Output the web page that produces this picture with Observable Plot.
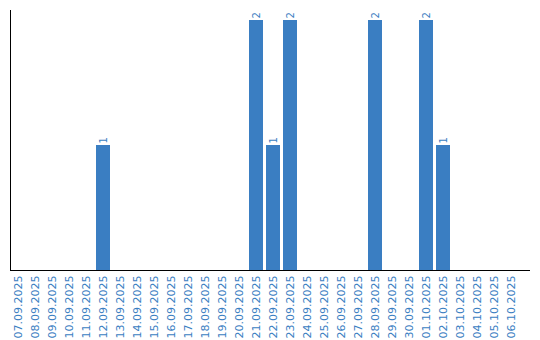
<!DOCTYPE html>
<html><head><meta charset="utf-8">
<script src="https://cdn.jsdelivr.net/npm/d3@7"></script>
<script src="https://cdn.jsdelivr.net/npm/@observablehq/plot@0.6"></script>
<style>body{margin:0;background:#fff}</style>
</head><body><div id="chart"></div>
<script>
const categories = ["07.09.2025","08.09.2025","09.09.2025","10.09.2025","11.09.2025","12.09.2025","13.09.2025","14.09.2025","15.09.2025","16.09.2025","17.09.2025","18.09.2025","19.09.2025","20.09.2025","21.09.2025","22.09.2025","23.09.2025","24.09.2025","25.09.2025","26.09.2025","27.09.2025","28.09.2025","29.09.2025","30.09.2025","01.10.2025","02.10.2025","03.10.2025","04.10.2025","05.10.2025","06.10.2025"];
const values = [0,0,0,0,0,1,0,0,0,0,0,0,0,0,2,1,2,0,0,0,0,2,0,0,2,1,0,0,0,0];
const data = categories.map((d, i) => ({date: d, value: values[i]}));
const blue = "#3a7ec2";
const chart = Plot.plot({
  width: 540, height: 340,
  marginLeft: 10, marginRight: 10, marginTop: 10, marginBottom: 70,
  style: {fontFamily: "DejaVu Sans", background: "#fff"},
  x: {domain: categories, paddingInner: 3/17, paddingOuter: 0.38, align: 0.077, label: null},
  y: {domain: [0, 2.08], axis: null},
  marks: [
    Plot.barY(data, {x: "date", y: "value", fill: blue}),
    Plot.text(data.filter(d => d.value > 0), {x: "date", y: "value", text: d => String(d.value), rotate: -90, textAnchor: "start", dy: -2, fill: blue, fontSize: 10}),
    Plot.axisX({tickRotate: -90, tickSize: 0, tickPadding: 5, fill: blue, fontSize: 11, label: null}),
    Plot.frame({anchor: "left", stroke: "#000"}),
    Plot.ruleY([0], {stroke: "#000"})
  ]
});
document.getElementById("chart").append(chart);
</script></body></html>
